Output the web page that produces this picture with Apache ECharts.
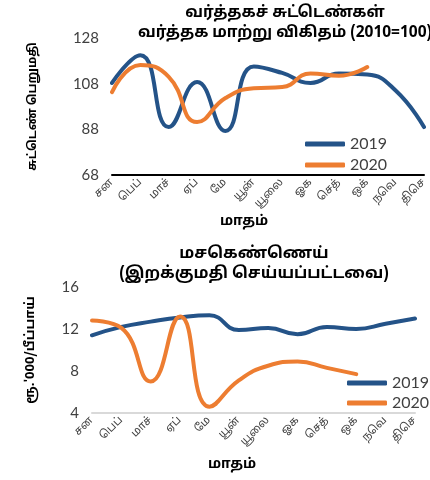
<!DOCTYPE html>
<html><head><meta charset="utf-8">
<script src="https://cdn.jsdelivr.net/npm/echarts@6/dist/echarts.min.js"></script>
<style>html,body{margin:0;padding:0;background:#fff}#c{width:430px;height:480px}</style>
</head><body><div id="c"></div>
<script>
var months = ['சன','பெப்','மாச்','ஏப்','மே','யூன்','யூலை','ஓக','செத்','ஒக்','நவெ','திசெ'];
var tot2019 = [108.3,120.5,89,108.7,87.3,115.5,112.7,108.3,112.5,112,105,89];
var tot2020 = [104.3,116.2,111,91.2,101.7,106,106.5,112.5,111.5,115.3];
var crude2019 = [11.4,12.2,12.7,13.1,13.3,11.9,12.1,11.5,12.2,12.0,12.5,13.0];
var crude2020 = [12.8,12.1,7.0,13.2,4.6,7.1,8.5,8.9,8.3,7.7];
var topTicks = {min:68,max:128,interval:20};
var botTicks = {min:4,max:16,interval:4};

var tamil = '"Noto Sans Tamil","Latha","Lohit Tamil",sans-serif';
var num = 'Lato, "Noto Sans", sans-serif';
var blue = '#245388', orange = '#ED7D31';
var chart = echarts.init(document.getElementById('c'));
function xa(idx, lineColor){
  return {type:'category', gridIndex:idx, data:months, boundaryGap:false,
    axisLine:{show:true, lineStyle:{color:lineColor, width:2}},
    axisTick:{show:false},
    axisLabel:{rotate:45, fontSize:11, color:'#404040', fontFamily:tamil, margin:6, interval:0}};
}
function ya(idx, t, name, gap, fs){
  return {type:'value', gridIndex:idx, min:t.min, max:t.max, interval:t.interval,
    name:name, nameLocation:'middle', nameRotate:90, nameGap:gap,
    nameTextStyle:{fontSize:fs, fontWeight:'bold', color:'#000', fontFamily:tamil},
    axisLine:{show:false}, axisTick:{show:false}, splitLine:{show:false},
    axisLabel:{fontSize:15, color:'#404040', fontFamily:num, margin:13}};
}
function ser(name, data, color, idx){
  return {name:name, type:'line', data:data, xAxisIndex:idx, yAxisIndex:idx, smooth:0.5,
    showSymbol:false, symbol:'none', lineStyle:{color:color, width:4, cap:'round'}, itemStyle:{color:color}};
}
chart.setOption({
  animation:false,
  title:[
    {text:'வர்த்தகச் சுட்டெண்கள்\nவர்த்தக மாற்று விகிதம் (2010=100)', left:280, top:-1, textAlign:'center',
     textStyle:{fontSize:15.5, fontWeight:'bold', color:'#000', fontFamily:tamil, lineHeight:20}},
    {text:'மசகெண்ணெய்\n(இறக்குமதி செய்யப்பட்டவை)', left:249, top:240, textAlign:'center',
     textStyle:{fontSize:16, fontWeight:'bold', color:'#000', fontFamily:tamil, lineHeight:20}}
  ],
  grid:[
    {left:112, top:38, width:316, height:137, containLabel:false},
    {left:92, top:287, width:323, height:126, containLabel:false}
  ],
  xAxis:[xa(0,'#000'), xa(1,'#d9d9d9')],
  yAxis:[ya(0, topTicks, 'சுட்டெண் பெறுமதி', 72, 12), ya(1, botTicks, "ரூ.'000/பீப்பாய்", 54, 13)],
  legend:[
    {data:['2019','2020'], orient:'vertical', left:300, top:131, itemWidth:40, itemHeight:5, itemGap:5,
     icon:'roundRect', textStyle:{fontSize:16, color:'#404040', fontFamily:num}},
    {data:['2019 ','2020 '], orient:'vertical', left:342, top:370, itemWidth:40, itemHeight:5, itemGap:4,
     icon:'roundRect', textStyle:{fontSize:16, color:'#404040', fontFamily:num}}
  ],
  graphic:[
    {type:'text', left:220, top:215, style:{text:'மாதம்', font:'bold 14px '+tamil, fill:'#000'}},
    {type:'text', left:208, top:458, style:{text:'மாதம்', font:'bold 14px '+tamil, fill:'#000'}}
  ],
  series:[
    ser('2019', tot2019, blue, 0), ser('2020', tot2020, orange, 0),
    ser('2019 ', crude2019, blue, 1), ser('2020 ', crude2020, orange, 1)
  ]
});
</script></body></html>
